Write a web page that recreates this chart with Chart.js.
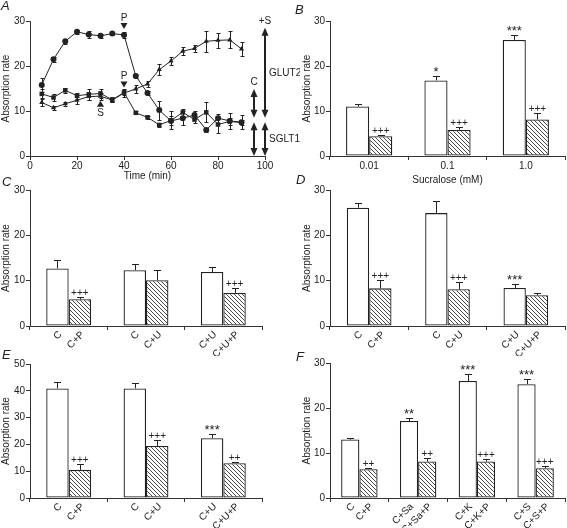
<!DOCTYPE html>
<html>
<head>
<meta charset="utf-8">
<script src="https://cdn.jsdelivr.net/npm/chart.js@4.4.1/dist/chart.umd.min.js"></script>
<style>
body { margin: 0; background: #fff; width: 567px; height: 528px; position: relative; overflow: hidden; font-family: 'Liberation Sans', Arial, sans-serif; }
canvas { position: absolute; }
.lt { position: absolute; font-style: italic; font-size: 13px; line-height: 13px; color: #222; }
</style>
</head>
<body>
<canvas id="pA" width="300" height="188" style="left:0;top:0"></canvas>
<canvas id="pB" width="277" height="188" style="left:290px;top:0"></canvas>
<canvas id="pC" width="285" height="176" style="left:0;top:180px"></canvas>
<canvas id="pD" width="277" height="176" style="left:290px;top:180px"></canvas>
<canvas id="pE" width="285" height="176" style="left:0;top:352px"></canvas>
<canvas id="pF" width="277" height="176" style="left:290px;top:352px"></canvas>
<div class="lt" style="left:1px;top:-1px">A</div>
<div class="lt" style="left:295px;top:3px">B</div>
<div class="lt" style="left:2px;top:175px">C</div>
<div class="lt" style="left:296px;top:173px">D</div>
<div class="lt" style="left:2px;top:348px">E</div>
<div class="lt" style="left:296px;top:350px">F</div>
<script>
// panel A: time course
const times = [5, 10, 15, 20, 25, 30, 35, 40, 45, 50, 55, 60, 65, 70, 75, 80, 85, 90];
const circles = [15.8, 21.5, 25.5, 27.6, 27.0, 26.7, 27.2, 26.9, 17.8, 14.0, 10.2, 7.8, 8.4, 9.1, 5.8, 8.4, 7.8, 7.5];
const circlesErr = [1.5, 0.5, 0.6, 0.4, 0.7, 0.4, 0.4, 0.6, 0.5, 0.5, 2.1, 1.0, 1.6, 0.9, 0.4, 1.0, 1.8, 1.6];
const squares = [13.8, 13.0, 14.6, 13.4, 13.7, 13.9, 12.5, 14.1, 9.6, 8.6, 6.9, 7.9, 9.7, 8.1, 9.7, 7.0, 7.7, 7.4];
const squaresErr = [1.0, 0.7, 0.5, 0.7, 1.3, 0.9, 0.6, 0.5, 0.3, 0.4, 0.5, 2.0, 0.8, 0.8, 2.2, 1.8, 0.8, 0.6];
const triangles = [11.9, 10.7, 11.6, 12.4, 13.2, 13.3, 12.4, 14.0, 14.9, 16.0, 19.2, 21.1, 23.3, 23.9, 25.5, 25.7, 25.8, 23.8];
const trianglesErr = [0.8, 0.5, 0.4, 0.8, 0.8, 0.8, 0.5, 0.8, 0.9, 0.7, 1.2, 0.9, 0.9, 0.8, 2.3, 1.7, 1.9, 1.5];
// markers P / S (time, value)
const pMarks = [[40, 28.9, 'P', 'down'], [40, 15.9, 'P', 'down'], [30, 11.6, 'S', 'up']];
// double arrows: x, label, segments [top, bottom]
const arrowC = [95.3, 'C', [[14.9, 8.5], [7.5, 0]]];
const arrowS = [100, '+S', [[28.5, 8.5], [7.5, 0]]];
const arrowNames = ['GLUT2', 'SGLT1'];

// panel B
const sucralose = ['0.01', '0.1', '1.0'];
const bOpen = [11.0, 16.8, 25.8];
const bOpenErr = [0.6, 1.0, 1.2];
const bHatch = [4.4, 5.8, 8.1];
const bHatchErr = [0.3, 0.6, 1.5];
const bSigOpen = ['', '*', '***'];
const bSigHatch = ['+++', '+++', '+++'];

// panel C
const cLabOpen = ['C', 'C', 'C+U'];
const cLabHatch = ['C+P', 'C+U', 'C+U+P'];
const cOpen = [12.7, 12.3, 11.9];
const cOpenErr = [1.8, 1.3, 1.1];
const cHatch = [5.9, 10.1, 7.3];
const cHatchErr = [0.5, 2.2, 1.0];
const cSigOpen = ['', '', ''];
const cSigHatch = ['+++', '', '+++'];

// panel D
const dOpen = [26.1, 24.9, 8.4];
const dOpenErr = [1.1, 2.7, 0.9];
const dHatch = [8.3, 8.1, 6.8];
const dHatchErr = [1.8, 1.5, 0.5];
const dSigOpen = ['', '', '***'];
const dSigHatch = ['+++', '+++', ''];

// panel E
const eOpen = [40.9, 40.9, 22.3];
const eOpenErr = [2.5, 1.9, 1.5];
const eHatch = [10.5, 19.4, 13.0];
const eHatchErr = [2.2, 2.3, 0.6];
const eSigOpen = ['', '', '***'];
const eSigHatch = ['+++', '+++', '++'];

// panel F
const fLabOpen = ['C', 'C+Sa', 'C+K', 'C+S'];
const fLabHatch = ['C+P', 'C+Sa+P', 'C+K+P', 'C+S+P'];
const fOpen = [13.0, 17.1, 26.0, 25.3];
const fOpenErr = [0.4, 0.6, 1.6, 1.2];
const fHatch = [6.4, 8.1, 8.1, 6.6];
const fHatchErr = [0.3, 0.7, 0.6, 0.5];
const fSigOpen = ['', '**', '***', '***'];
const fSigHatch = ['++', '++', '+++', '+++'];

const ink = '#222';
const font = { family: "'Liberation Sans', Arial, sans-serif", size: 10 };
const fontStr = "10px 'Liberation Sans', Arial, sans-serif";
const starFont = "13px 'Liberation Sans', Arial, sans-serif";

function hatch() {
    const c = document.createElement('canvas');
    c.width = 4; c.height = 4;
    const g = c.getContext('2d');
    g.fillStyle = '#fff';
    g.fillRect(0, 0, 4, 4);
    g.strokeStyle = '#333';
    g.lineWidth = 0.9;
    g.beginPath();
    g.moveTo(0, 0); g.lineTo(4, 4);
    g.moveTo(-1, 3); g.lineTo(1, 5);
    g.moveTo(3, -1); g.lineTo(5, 1);
    g.stroke();
    return g.createPattern(c, 'repeat');
}

// error bars, significance marks and per-bar rotated labels
const extras = {
    id: 'extras',
    afterDatasetsDraw(chart) {
        const ctx = chart.ctx;
        const ys = chart.scales.y;
        const bottom = chart.chartArea.bottom;
        ctx.save();
        ctx.strokeStyle = ink;
        ctx.fillStyle = ink;
        ctx.lineWidth = 1;
        chart.data.datasets.forEach((ds, di) => {
            const meta = chart.getDatasetMeta(di);
            meta.data.forEach((el, i) => {
                const raw = ds.data[i];
                const v = typeof raw === 'object' ? raw.y : raw;
                const e = ds.errors ? ds.errors[i] : 0;
                const x = Math.round(el.x) + 0.5;
                const top = Math.round(ys.getPixelForValue(v + e)) + 0.5;
                const both = chart.config.type === 'line';
                const bot = both ? Math.round(ys.getPixelForValue(v - e)) + 0.5 : el.y;
                const cap = both ? 2 : 3.5;
                if (e) {
                    ctx.beginPath();
                    ctx.moveTo(x, bot); ctx.lineTo(x, top);
                    ctx.moveTo(x - cap, top); ctx.lineTo(x + cap, top);
                    if (both) { ctx.moveTo(x - cap, bot); ctx.lineTo(x + cap, bot); }
                    ctx.stroke();
                }
                if (ds.sig && ds.sig[i]) {
                    const star = ds.sig[i].indexOf('*') >= 0;
                    ctx.font = star ? starFont : fontStr;
                    ctx.textAlign = 'center';
                    ctx.textBaseline = 'alphabetic';
                    ctx.fillText(ds.sig[i], el.x, star ? top - 0.5 : top - 1.5);
                }
                if (ds.tickText) {
                    ctx.save();
                    ctx.font = fontStr;
                    ctx.translate(el.x + 3, bottom + 7);
                    ctx.rotate(-Math.PI / 4);
                    ctx.textAlign = 'right';
                    ctx.textBaseline = 'middle';
                    ctx.fillText(ds.tickText[i], 0, 0);
                    ctx.restore();
                }
            });
        });
        ctx.restore();
    }
};
Chart.register(extras);

// markers and arrows of panel A
const annotA = {
    id: 'annotA',
    afterDraw(chart) {
        const ctx = chart.ctx;
        const xs = chart.scales.x, ys = chart.scales.y;
        ctx.save();
        ctx.fillStyle = ink;
        ctx.strokeStyle = ink;
        ctx.font = fontStr;
        ctx.textAlign = 'center';
        ctx.textBaseline = 'middle';
        pMarks.forEach(m => {
            const px = xs.getPixelForValue(m[0]);
            const py = ys.getPixelForValue(m[1]);
            ctx.beginPath();
            if (m[3] === 'down') {
                ctx.moveTo(px - 3.5, py - 3); ctx.lineTo(px + 3.5, py - 3); ctx.lineTo(px, py + 3);
            } else {
                ctx.moveTo(px - 3.5, py + 3); ctx.lineTo(px + 3.5, py + 3); ctx.lineTo(px, py - 3);
            }
            ctx.fill();
            ctx.fillText(m[2], px, m[3] === 'down' ? py - 8 : py + 9);
        });
        function head(px, tip, dir) {
            ctx.beginPath();
            ctx.moveTo(px, tip);
            ctx.lineTo(px - 3.5, tip - dir * 8);
            ctx.lineTo(px + 3.5, tip - dir * 8);
            ctx.fill();
        }
        [arrowC, arrowS].forEach(a => {
            const px = Math.round(xs.getPixelForValue(a[0]));
            ctx.lineWidth = 2;
            a[2].forEach(seg => {
                const t = ys.getPixelForValue(seg[0]);
                const b = ys.getPixelForValue(seg[1]);
                ctx.beginPath();
                ctx.moveTo(px, t + 6); ctx.lineTo(px, b - 6);
                ctx.stroke();
                head(px, t, -1);
                head(px, b, 1);
            });
            ctx.textAlign = 'center';
            ctx.fillText(a[1], px, ys.getPixelForValue(a[2][0][0]) - 7);
        });
        const sx = xs.getPixelForValue(arrowS[0]);
        ctx.textAlign = 'left';
        arrowS[2].forEach((seg, k) => {
            ctx.fillText(arrowNames[k], sx + 4, ys.getPixelForValue((seg[0] + seg[1]) / 2));
        });
        ctx.restore();
    }
};

function yAxis(max, w, titlePad) {
    return {
        min: 0, max: max,
        ticks: { stepSize: 10, color: ink, font: font, padding: 1 },
        border: { color: '#333', width: 1 },
        grid: { drawOnChartArea: false, tickLength: 4, color: '#333' },
        title: { display: true, text: 'Absorption rate', color: ink, font: font, padding: { top: titlePad, bottom: 0 } },
        afterFit(s) { s.width = w; }
    };
}

function xBars(labels, h, title) {
    return {
        type: 'category',
        ticks: { display: !!title, color: ink, font: font, padding: 0 },
        border: { color: '#333', width: 1 },
        grid: { drawOnChartArea: false, tickLength: 4, color: '#333', offset: true },
        title: { display: !!title, text: title || '', color: ink, font: font, padding: { top: 0, bottom: 2 } },
        afterFit(s) { s.height = h; }
    };
}

const hatchFill = hatch();

function barChart(id, labels, open, openErr, sigO, hatched, hatchErr, sigH, opts) {
    const datasets = [
        { data: open, errors: openErr, sig: sigO, tickText: opts.labOpen,
          backgroundColor: '#fff', borderColor: ink, borderWidth: 1.3, borderSkipped: false,
          categoryPercentage: opts.cat, barPercentage: 1 },
        { data: hatched, errors: hatchErr, sig: sigH, tickText: opts.labHatch,
          backgroundColor: hatchFill, borderColor: ink, borderWidth: 1.3, borderSkipped: false,
          categoryPercentage: opts.cat, barPercentage: 1 }
    ];
    new Chart(document.getElementById(id), {
        type: 'bar',
        data: { labels: labels, datasets: datasets },
        options: {
            responsive: false,
            animation: false,
            layout: { padding: { top: opts.top, right: opts.right, bottom: 0, left: 0 } },
            plugins: { legend: { display: false }, tooltip: { enabled: false } },
            scales: {
                x: xBars(labels, opts.xh, opts.title),
                y: yAxis(opts.max, opts.yw, opts.tp)
            }
        }
    });
}

// panel A
const pts = arr => times.map((t, i) => ({ x: t, y: arr[i] }));
new Chart(document.getElementById('pA'), {
    type: 'line',
    data: {
        datasets: [
            { data: pts(circles), errors: circlesErr, pointStyle: 'circle', pointRadius: 3 },
            { data: pts(squares), errors: squaresErr, pointStyle: 'rect', pointRadius: 3.2 },
            { data: pts(triangles), errors: trianglesErr, pointStyle: 'triangle', pointRadius: 3 }
        ].map(d => Object.assign(d, {
            borderColor: ink, borderWidth: 1, pointBackgroundColor: ink, pointBorderColor: ink,
            pointBorderWidth: 0, tension: 0, fill: false
        }))
    },
    options: {
        responsive: false,
        animation: false,
        layout: { padding: { top: 21, right: 35, bottom: 0, left: 0 } },
        plugins: { legend: { display: false }, tooltip: { enabled: false } },
        scales: {
            x: {
                type: 'linear', min: 0, max: 100,
                ticks: { stepSize: 20, color: ink, font: font, padding: 0 },
                border: { color: '#333', width: 1 },
                grid: { drawOnChartArea: false, tickLength: 4, color: '#333' },
                title: { display: true, text: 'Time (min)', color: ink, font: font, padding: { top: 0, bottom: 6 } },
                afterFit(s) { s.height = 32; }
            },
            y: yAxis(30, 30, 0)
        }
    },
    plugins: [annotA]
});

barChart('pB', sucralose, bOpen, bOpenErr, bSigOpen, bHatch, bHatchErr, bSigHatch,
    { cat: 0.59, top: 21, right: 2, xh: 32, title: 'Sucralose (mM)', max: 30, yw: 40, tp: 11 });
barChart('pC', cLabOpen, cOpen, cOpenErr, cSigOpen, cHatch, cHatchErr, cSigHatch,
    { labOpen: cLabOpen, labHatch: cLabHatch, cat: 0.58, top: 10, right: 23, xh: 30, max: 30, yw: 30, tp: 0 });
barChart('pD', cLabOpen, dOpen, dOpenErr, dSigOpen, dHatch, dHatchErr, dSigHatch,
    { labOpen: cLabOpen, labHatch: cLabHatch, cat: 0.57, top: 10, right: 2, xh: 30, max: 30, yw: 40, tp: 11 });
barChart('pE', cLabOpen, eOpen, eOpenErr, eSigOpen, eHatch, eHatchErr, eSigHatch,
    { labOpen: cLabOpen, labHatch: cLabHatch, cat: 0.58, top: 12, right: 23, xh: 30, max: 50, yw: 30, tp: 0 });
barChart('pF', fLabOpen, fOpen, fOpenErr, fSigOpen, fHatch, fHatchErr, fSigHatch,
    { labOpen: fLabOpen, labHatch: fLabHatch, cat: 0.62, top: 11, right: 2, xh: 30, max: 30, yw: 40, tp: 11 });
</script>
</body>
</html>
